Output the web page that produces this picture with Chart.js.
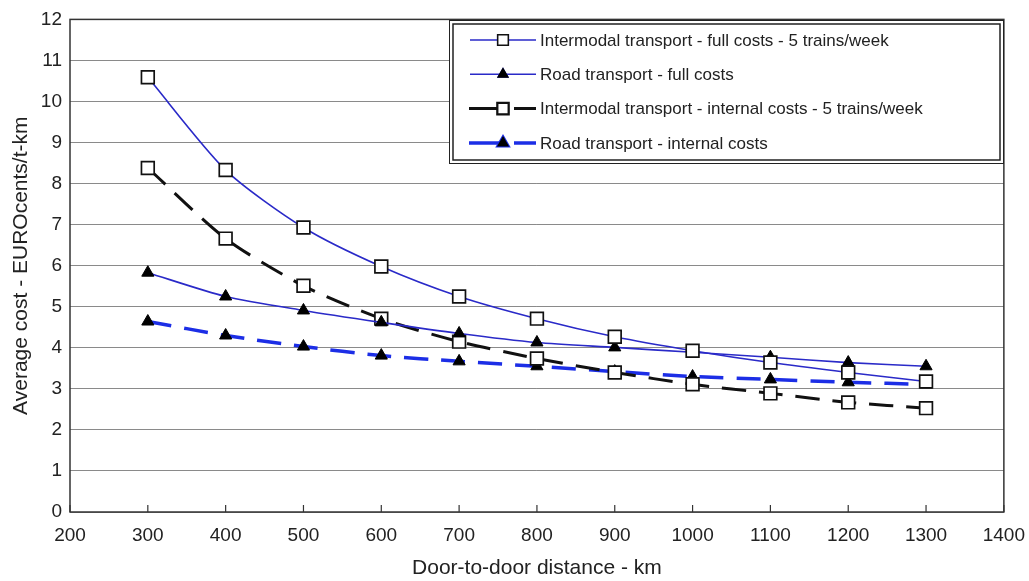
<!DOCTYPE html>
<html>
<head>
<meta charset="utf-8">
<script src="https://cdn.jsdelivr.net/npm/chart.js@4.4.0/dist/chart.umd.min.js"></script>
<style>
  html, body { margin: 0; padding: 0; background: #fff; }
  #wrap { width: 1029px; height: 581px; }
</style>
</head>
<body>
<div id="wrap"><canvas id="grafica"></canvas></div>
<script>
const distances = [300, 400, 500, 600, 700, 800, 900, 1000, 1100, 1200, 1300];
const intermodalFull = [10.59, 8.33, 6.93, 5.98, 5.25, 4.71, 4.27, 3.93, 3.64, 3.40, 3.18];
const roadFull = [5.83, 5.25, 4.91, 4.62, 4.35, 4.13, 4.01, 3.89, 3.77, 3.64, 3.55];
const intermodalInternal = [8.38, 6.66, 5.51, 4.71, 4.15, 3.74, 3.40, 3.11, 2.89, 2.67, 2.53];
const roadInternal = [4.64, 4.30, 4.03, 3.81, 3.67, 3.55, 3.42, 3.30, 3.23, 3.16, 3.11];
const seriesNames = [
  'Intermodal transport - full costs - 5 trains/week',
  'Road transport - full costs',
  'Intermodal transport - internal costs - 5 trains/week',
  'Road transport - internal costs'
];
const xTicks = [200, 300, 400, 500, 600, 700, 800, 900, 1000, 1100, 1200, 1300, 1400];

const FONT = '"Liberation Sans", Arial, sans-serif';
const pts = vals => vals.map((v, i) => ({ x: distances[i], y: v }));

// legend box + inward x ticks + frame
const extras = {
  id: 'extras',
  afterDraw(chart) {
    const { ctx, chartArea: a, scales } = chart;
    ctx.save();
    // frame
    ctx.strokeStyle = '#333';
    ctx.lineWidth = 1.5;
    ctx.strokeRect(a.left, a.top, a.right - a.left, a.bottom - a.top);
    // inward ticks
    ctx.lineWidth = 1.2;
    xTicks.forEach(t => {
      const x = scales.x.getPixelForValue(t);
      ctx.beginPath();
      ctx.moveTo(x, a.bottom);
      ctx.lineTo(x, a.bottom - 7);
      ctx.stroke();
    });
    // legend
    const bx = 449, by = 20, bw = 554, bh = 143;
    ctx.fillStyle = '#fff';
    ctx.fillRect(bx, by, bw, bh);
    ctx.strokeStyle = '#222';
    ctx.lineWidth = 1;
    ctx.strokeRect(bx + 0.5, by + 0.5, bw, bh);
    ctx.lineWidth = 1.5;
    ctx.strokeRect(bx + 4, by + 4, bw - 7, bh - 7);
    chart.data.datasets.forEach((ds, i) => {
      const y = 40 + i * 34.3;
      ctx.strokeStyle = ds.borderColor;
      ctx.lineWidth = ds.borderWidth;
      ctx.setLineDash([]);
      ctx.beginPath();
      if (ds.borderDash && ds.borderDash.length) {
        ctx.moveTo(469, y); ctx.lineTo(500, y);
        ctx.moveTo(514, y); ctx.lineTo(536, y);
      } else {
        ctx.moveTo(470, y); ctx.lineTo(536, y);
      }
      ctx.stroke();
      Chart.helpers.drawPoint(ctx, {
        pointStyle: ds.pointStyle, radius: ds.pointRadius - 1.5, rotation: 0, borderWidth: 1.5
      }, 503, y);
      ctx.fillStyle = ds.pointBackgroundColor;
      ctx.strokeStyle = ds.pointBorderColor;
      ctx.lineWidth = 1.5;
      ctx.fill(); ctx.stroke();
      ctx.fillStyle = '#222';
      ctx.font = '17px ' + FONT;
      ctx.textBaseline = 'middle';
      ctx.fillText(seriesNames[i], 540, y + 1);
    });
    ctx.restore();
  }
};

new Chart(document.getElementById('grafica'), {
  type: 'line',
  data: {
    datasets: [
      {
        label: seriesNames[0],
        data: pts(intermodalFull),
        borderColor: '#2a2ac8',
        borderWidth: 1.6,
        tension: 0.25,
        pointStyle: 'rect',
        pointRadius: 9,
        pointBackgroundColor: '#fff',
        pointBorderColor: '#111',
        pointBorderWidth: 1.7
      },
      {
        label: seriesNames[1],
        data: pts(roadFull),
        borderColor: '#2a2ac8',
        borderWidth: 1.6,
        tension: 0.25,
        pointStyle: 'triangle',
        pointRadius: 7,
        pointBackgroundColor: '#000',
        pointBorderColor: '#000',
        pointBorderWidth: 1
      },
      {
        label: seriesNames[2],
        data: pts(intermodalInternal),
        borderColor: '#111',
        borderWidth: 3,
        borderDash: [24, 13],
        tension: 0.25,
        pointStyle: 'rect',
        pointRadius: 9,
        pointBackgroundColor: '#fff',
        pointBorderColor: '#111',
        pointBorderWidth: 1.7
      },
      {
        label: seriesNames[3],
        data: pts(roadInternal),
        borderColor: '#1c2ee6',
        borderWidth: 3.5,
        borderDash: [24, 13],
        tension: 0.25,
        pointStyle: 'triangle',
        pointRadius: 7,
        pointBackgroundColor: '#000',
        pointBorderColor: '#000',
        pointBorderWidth: 1
      }
    ]
  },
  options: {
    responsive: true,
    maintainAspectRatio: false,
    animation: false,
    layout: { padding: { top: 18, right: 10, left: 0, bottom: 0 } },
    plugins: {
      legend: { display: false },
      tooltip: { enabled: false }
    },
    scales: {
      x: {
        type: 'linear',
        min: 200,
        max: 1400,
        afterBuildTicks: s => { s.ticks = xTicks.map(v => ({ value: v })); },
        afterFit: s => { s.height = 69; },
        grid: { display: false },
        border: { display: false },
        ticks: { color: '#222', font: { family: FONT, size: 19 }, padding: 4, maxRotation: 0, callback: v => String(v) },
        title: { display: true, text: 'Door-to-door distance - km', color: '#222', font: { family: FONT, size: 21 }, padding: { top: 0, bottom: 0 } }
      },
      y: {
        min: 0,
        max: 12,
        afterFit: s => { s.width = 70; },
        ticks: { stepSize: 1, color: '#222', font: { family: FONT, size: 19 }, padding: 8 },
        grid: { color: '#8a8a8a', lineWidth: 1, drawTicks: false },
        border: { display: false },
        title: { display: true, text: 'Average cost - EUROcents/t-km', color: '#222', font: { family: FONT, size: 21 }, padding: { top: 9, bottom: 0 } }
      }
    }
  },
  plugins: [extras]
});
</script>
</body>
</html>
